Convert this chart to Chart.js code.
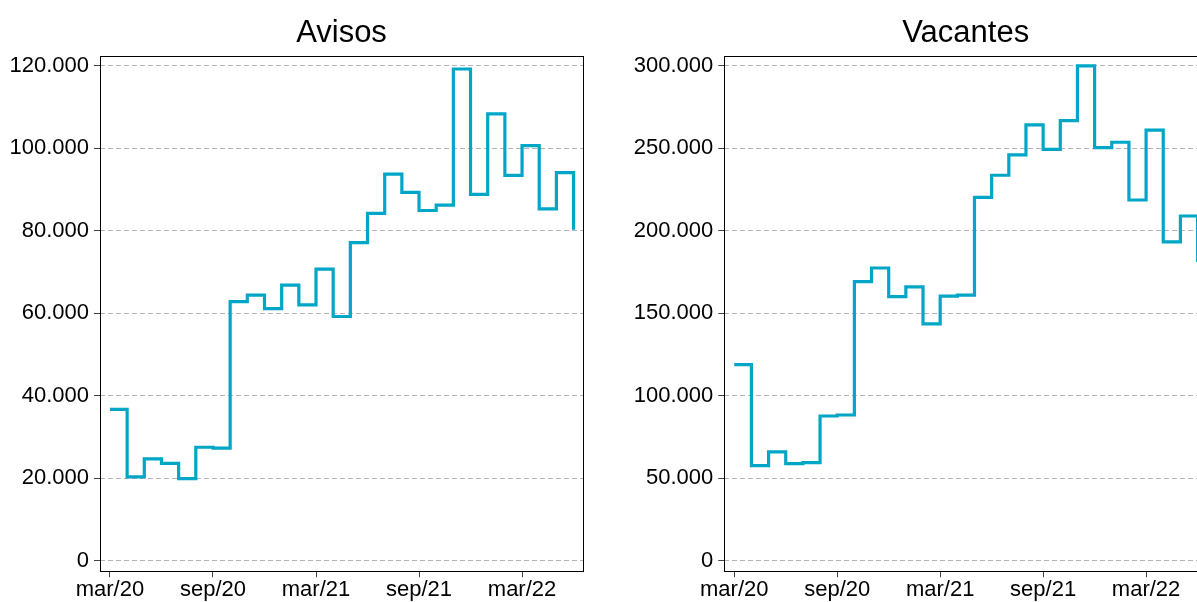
<!DOCTYPE html>
<html>
<head>
<meta charset="utf-8">
<script src="https://cdn.jsdelivr.net/npm/chart.js@4.4.1/dist/chart.umd.min.js"></script>
<style>
html, body { margin:0; padding:0; background:#fff; width:1197px; height:602px; overflow:hidden; }
.panel { position:absolute; top:0; height:602px; }
#p1 { left:0; width:600px; }
#p2 { left:620px; width:600px; }
</style>
</head>
<body>
<div class="panel" id="p1"><canvas id="c1"></canvas></div>
<div class="panel" id="p2"><canvas id="c2"></canvas></div>
<script>
// ---- data ----
const months = ['mar/20','abr/20','may/20','jun/20','jul/20','ago/20','sep/20','oct/20','nov/20','dic/20',
  'ene/21','feb/21','mar/21','abr/21','may/21','jun/21','jul/21','ago/21','sep/21','oct/21','nov/21','dic/21',
  'ene/22','feb/22','mar/22','abr/22','may/22','jun/22'];
const avisos = [36700, 20300, 24700, 23600, 19900, 27500, 27300, 62800, 64400, 61100, 66800, 62000, 70700, 59200,
  77100, 84200, 93700, 89300, 84900, 86200, 119200, 88800, 108300, 93400, 100600, 85300, 94100, 80200];
const vacantes = [118800, 57600, 66000, 58800, 59400, 87700, 88300, 169100, 177400, 160000, 165900, 143500, 160400, 161000,
  220200, 233600, 245900, 264100, 249300, 266700, 299900, 250300, 253600, 218600, 261000, 193200, 208900, 181000];
const xTickLabels = ['mar/20','sep/20','mar/21','sep/21','mar/22'];
const avisosTicks = [0, 20000, 40000, 60000, 80000, 100000, 120000];
const vacantesTicks = [0, 50000, 100000, 150000, 200000, 250000, 300000];

// ---- chart ----
Chart.defaults.font.family = "'Liberation Sans', Arial, sans-serif";
Chart.defaults.color = '#000';

const fmt = v => String(v).replace(/\B(?=(\d{3})+(?!\d))/g, '.');
const LINE = '#00a6c6';

const frame = {
  id: 'frame',
  afterDraw(chart) {
    const { ctx, chartArea: a } = chart;
    ctx.save();
    ctx.strokeStyle = '#000';
    ctx.lineWidth = 1;
    ctx.strokeRect(Math.round(a.left) + 0.5, Math.round(a.top) + 0.5,
      Math.round(a.right) - Math.round(a.left), Math.round(a.bottom) - Math.round(a.top));
    ctx.restore();
  }
};

function makeChart(id, title, values, yTicks, yAxisWidth, rightPad) {
  const pts = values.map((v, i) => ({ x: i, y: v }));
  const xTickVals = xTickLabels.map(l => months.indexOf(l));
  const top = yTicks[yTicks.length - 1];
  return new Chart(document.getElementById(id), {
    type: 'line',
    data: { datasets: [{ data: pts, stepped: true, borderColor: LINE, borderWidth: 3.2,
      pointRadius: 0, fill: false, borderJoinStyle: 'miter' }] },
    options: {
      responsive: true, maintainAspectRatio: false, animation: false,
      layout: { padding: { left: 0, right: rightPad, top: 0, bottom: 0 } },
      plugins: {
        legend: { display: false }, tooltip: { enabled: false },
        title: { display: true, text: title, fullSize: false, color: '#000',
          font: { size: 31, weight: 'normal' }, padding: { top: 15.3, bottom: 3.2 } }
      },
      scales: {
        x: {
          type: 'linear', bounds: 'data',
          min: -0.58, max: months.length - 1 + 0.55,
          afterBuildTicks: s => { s.ticks = xTickVals.map(v => ({ value: v })); },
          afterFit: s => { s.height = 31.3; },
          ticks: { callback: v => months[v], font: { size: 22 }, padding: 0, maxRotation: 0, autoSkip: false, color: '#000' },
          grid: { drawOnChartArea: false, drawTicks: true, tickLength: 6.5, tickColor: '#444', tickWidth: 1 },
          border: { display: false }
        },
        y: {
          type: 'linear', bounds: 'data',
          min: -top * 0.0202, max: top * 1.0202,
          afterBuildTicks: s => { s.ticks = yTicks.map(v => ({ value: v })); },
          afterFit: s => { s.width = yAxisWidth; },
          ticks: { callback: v => fmt(v), font: { size: 22 }, padding: 5, color: '#000' },
          grid: { drawOnChartArea: true, color: '#b4b4b4', lineWidth: 1, drawTicks: true, tickLength: 6,
            tickColor: '#444', tickWidth: 1, tickBorderDash: [] },
          border: { display: false, dash: [5, 3] }
        }
      }
    },
    plugins: [frame]
  });
}

makeChart('c1', 'Avisos', avisos, avisosTicks, 100, 17);
makeChart('c2', 'Vacantes', vacantes, vacantesTicks, 104.3, 13);
</script>
</body>
</html>
